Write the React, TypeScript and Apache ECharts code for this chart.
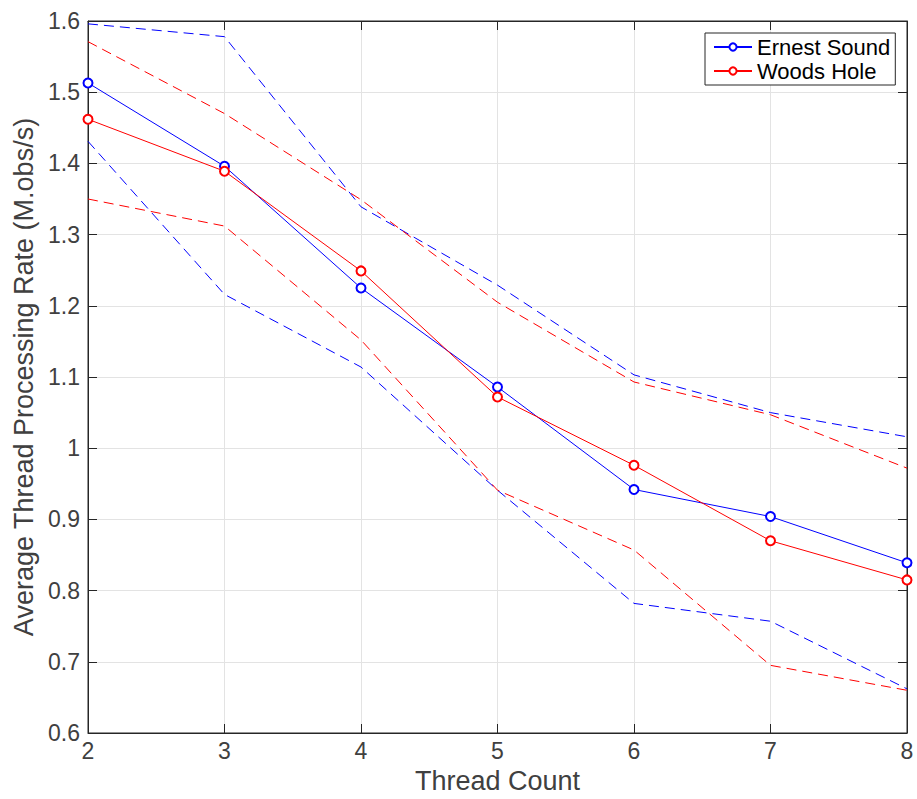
import React, { useEffect, useRef } from "react";
import * as echarts from "echarts";

const threads = [2, 3, 4, 5, 6, 7, 8];
const ernestMean = [1.513, 1.396, 1.225, 1.086, 0.942, 0.904, 0.839];
const ernestUpper = [1.596, 1.578, 1.339, 1.229, 1.103, 1.05, 1.016];
const ernestLower = [1.431, 1.216, 1.114, 0.941, 0.782, 0.757, 0.662];
const woodsMean = [1.462, 1.389, 1.249, 1.072, 0.976, 0.87, 0.815];
const woodsUpper = [1.571, 1.47, 1.349, 1.205, 1.093, 1.047, 0.972];
const woodsLower = [1.35, 1.312, 1.152, 0.941, 0.857, 0.695, 0.66];

const BLUE = "#0000ff";
const RED = "#ff0000";
const AXIS = "#262626";
const TXT = "#404040";
const GRIDC = "#e3e3e3";
const FONT = "'Liberation Sans', Arial, Helvetica, sans-serif";

const pairs = (ys: number[]) => threads.map((x, i) => [x, ys[i]]);

export default function App() {
  const ref = useRef<HTMLDivElement>(null);
  useEffect(() => {
    if (!ref.current) return;
    const chart = echarts.init(ref.current, undefined, { renderer: "svg" });
    const meanSeries = (name: string, color: string, ys: number[]) => ({
      name,
      type: "line",
      data: pairs(ys),
      symbol: "emptyCircle",
      symbolSize: 9,
      lineStyle: { color, width: 1 },
      itemStyle: { color, borderColor: color, borderWidth: 1 },
      z: 3,
    });
    const bandSeries = (name: string, color: string, ys: number[]) => ({
      name,
      type: "line",
      data: pairs(ys),
      symbol: "none",
      lineStyle: { color, width: 1, type: [10, 6] },
      z: 2,
    });
    const tick = { show: true, inside: true, length: 9, lineStyle: { color: AXIS } };
    chart.setOption({
      animation: false,
      backgroundColor: "#ffffff",
      textStyle: { fontFamily: FONT },
      grid: {
        left: 88,
        right: 10,
        top: 21,
        bottom: 65,
        show: true,
        borderColor: AXIS,
        borderWidth: 1,
      },
      legend: {
        data: ["Ernest Sound", "Woods Hole"],
        orient: "vertical",
        left: 705,
        top: 33,
        backgroundColor: "#ffffff",
        borderColor: AXIS,
        borderWidth: 1,
        borderRadius: 0,
        padding: [3, 5, 3, 8],
        itemGap: 2,
        itemWidth: 38,
        itemHeight: 9,
        textStyle: { fontSize: 22, lineHeight: 22, color: "#000000", fontFamily: FONT },
      },
      xAxis: [
        {
          type: "value",
          min: 2,
          max: 8,
          interval: 1,
          position: "bottom",
          name: "Thread Count",
          nameLocation: "middle",
          nameGap: 34,
          nameTextStyle: { fontSize: 27, color: TXT, fontFamily: FONT },
          axisLine: { show: true, lineStyle: { color: AXIS } },
          axisTick: tick,
          axisLabel: { fontSize: 23, color: TXT, margin: 6, fontFamily: FONT },
          splitLine: { show: true, lineStyle: { color: GRIDC, width: 1 } },
        },
        {
          type: "value",
          min: 2,
          max: 8,
          interval: 1,
          position: "top",
          axisLine: { show: true, lineStyle: { color: AXIS } },
          axisTick: tick,
          axisLabel: { show: false },
          splitLine: { show: false },
        },
      ],
      yAxis: [
        {
          type: "value",
          min: 0.6,
          max: 1.6,
          interval: 0.1,
          position: "left",
          name: "Average Thread Processing Rate (M.obs/s)",
          nameLocation: "middle",
          nameGap: 48,
          nameTextStyle: { fontSize: 27, color: TXT, fontFamily: FONT },
          axisLine: { show: true, lineStyle: { color: AXIS } },
          axisTick: tick,
          axisLabel: {
            fontSize: 23,
            color: TXT,
            margin: 8,
            fontFamily: FONT,
            formatter: (v: number) => String(Math.round(v * 10) / 10),
          },
          splitLine: { show: true, lineStyle: { color: GRIDC, width: 1 } },
        },
        {
          type: "value",
          min: 0.6,
          max: 1.6,
          interval: 0.1,
          position: "right",
          axisLine: { show: true, lineStyle: { color: AXIS } },
          axisTick: tick,
          axisLabel: { show: false },
          splitLine: { show: false },
        },
      ],
      series: [
        meanSeries("Ernest Sound", BLUE, ernestMean),
        meanSeries("Woods Hole", RED, woodsMean),
        bandSeries("Ernest Sound upper", BLUE, ernestUpper),
        bandSeries("Ernest Sound lower", BLUE, ernestLower),
        bandSeries("Woods Hole upper", RED, woodsUpper),
        bandSeries("Woods Hole lower", RED, woodsLower),
      ],
    });
    return () => chart.dispose();
  }, []);
  return (
    <div
      ref={ref}
      style={{ position: "absolute", left: 0, top: 0, width: 917, height: 799 }}
    />
  );
}
